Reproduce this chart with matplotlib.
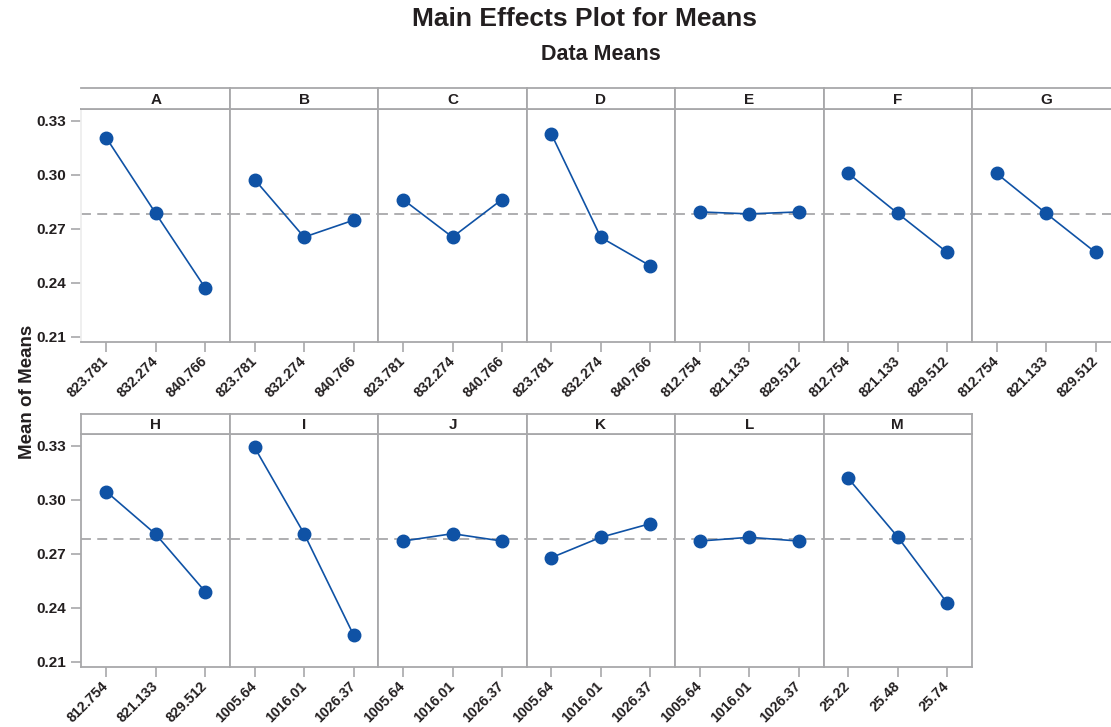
import matplotlib
matplotlib.use('Agg')
import matplotlib.pyplot as plt
import matplotlib.transforms as mtransforms
from matplotlib.ticker import FixedLocator, FuncFormatter

# ---------------- data ----------------
factors = ['A', 'B', 'C', 'D', 'E', 'F', 'G', 'H', 'I', 'J', 'K', 'L', 'M']
levels_ABCD = ['823.781', '832.274', '840.766']
levels_EFGH = ['812.754', '821.133', '829.512']
levels_IJKL = ['1005.64', '1016.01', '1026.37']
levels_M = ['25.22', '25.48', '25.74']
level_labels = [levels_ABCD, levels_ABCD, levels_ABCD, levels_ABCD,
                levels_EFGH, levels_EFGH, levels_EFGH, levels_EFGH,
                levels_IJKL, levels_IJKL, levels_IJKL, levels_IJKL,
                levels_M]
means_A = [0.3206, 0.2786, 0.2372]
means_B = [0.2974, 0.2654, 0.2748]
means_C = [0.2863, 0.2654, 0.2863]
means_D = [0.3226, 0.2652, 0.2494]
means_E = [0.2794, 0.2783, 0.2794]
means_F = [0.3008, 0.2786, 0.2569]
means_G = [0.3008, 0.2786, 0.2569]
means_H = [0.3046, 0.2809, 0.2490]
means_I = [0.3291, 0.2812, 0.2249]
means_J = [0.2771, 0.2812, 0.2771]
means_K = [0.2679, 0.2792, 0.2868]
means_L = [0.2771, 0.2792, 0.2771]
means_M = [0.3120, 0.2794, 0.2427]
means = [means_A, means_B, means_C, means_D, means_E, means_F, means_G,
         means_H, means_I, means_J, means_K, means_L, means_M]
grand_mean = 0.2785
y_ticks = [0.21, 0.24, 0.27, 0.30, 0.33]

# ---------------- style ----------------
plt.rcParams['font.family'] = ['Liberation Sans', 'DejaVu Sans']
plt.rcParams['font.weight'] = 'bold'
W, H = 1111, 727
fig = plt.figure(figsize=(W / 100, H / 100), dpi=100)
fig.patch.set_facecolor('white')

BLUE = '#0f52a5'
GREY = '#a8a8aa'
TXT = '#231f20'

x0 = 81.5
pw = 148.4
rows = [(109, 342, 88), (434, 667, 414)]  # plot top, plot bottom, header top


def fr(x, y_top, w, h):
    return [x / W, 1 - (y_top + h) / H, w / W, h / H]


label_shift = mtransforms.ScaledTranslation(3 / 100, 2 / 100, fig.dpi_scale_trans)

for i, name in enumerate(factors):
    r = 0 if i < 7 else 1
    c = i if i < 7 else i - 7
    ptop, pbot, htop = rows[r]
    left = x0 + c * pw
    ax = fig.add_axes(fr(left, ptop, pw, pbot - ptop))
    hx = fig.add_axes(fr(left, htop, pw, ptop - htop))

    xs = list(range(len(means[i])))
    ax.axhline(grand_mean, color=GREY, lw=1.3, ls=(0, (5.5, 3.5)), zorder=1)
    ax.plot(xs, means[i], color=BLUE, lw=1.2, marker='o', ms=9,
            markeredgecolor=BLUE, markerfacecolor=BLUE, zorder=3)
    ax.set_xlim(-0.5, 2.5)
    ax.set_ylim(0.2071, 0.3366)
    ax.set_xticks(xs)
    ax.set_xticklabels(level_labels[i], rotation=45, ha='right', va='center',
                       rotation_mode='anchor', fontsize=10.2, color=TXT,
                       fontweight='bold')
    for lab in ax.get_xticklabels():
        lab.set_transform(lab.get_transform() + label_shift)
    ax.yaxis.set_major_locator(FixedLocator(y_ticks))
    ax.yaxis.set_major_formatter(FuncFormatter(lambda v, p: f'{v:.2f}'))
    ax.tick_params(axis='x', direction='out', length=7, width=1.2,
                   color=GREY, pad=5)
    if c == 0:
        ax.tick_params(axis='y', direction='out', length=7, width=1.2,
                       color=GREY, labelsize=11, labelcolor=TXT, pad=4)
        for lab in ax.get_yticklabels():
            lab.set_fontweight('bold')
    else:
        ax.tick_params(axis='y', left=False, labelleft=False)
    for s in ax.spines.values():
        s.set_color(GREY)
        s.set_linewidth(1.3)
    if i == 0:
        ax.spines['left'].set_color('#eeeeee')

    hx.set_xticks([])
    hx.set_yticks([])
    hx.set_facecolor('white')
    for s in hx.spines.values():
        s.set_color(GREY)
        s.set_linewidth(1.3)
    if i == 0:
        hx.spines['left'].set_visible(False)
    hx.text(0.5, 0.45, name, ha='center', va='center', fontsize=11,
            fontweight='bold', color=TXT, transform=hx.transAxes)

fig.text(585 / W, 1 - 19 / H, 'Main Effects Plot for Means', ha='center',
         va='center', fontsize=19, fontweight='bold', color=TXT)
fig.text(601 / W, 1 - 55 / H, 'Data Means', ha='center', va='center',
         fontsize=15.5, fontweight='bold', color=TXT)
fig.text(28 / W, 1 - 392 / H, 'Mean of Means', ha='center', va='center',
         rotation=90, fontsize=13.5, fontweight='bold', color=TXT)

fig.savefig('out.png', dpi=100, facecolor='white')
